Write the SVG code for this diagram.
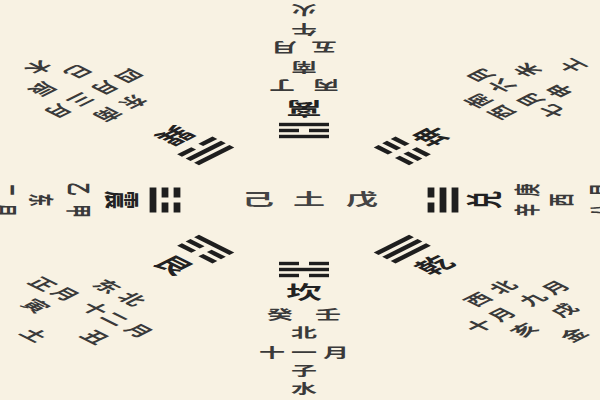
<svg xmlns="http://www.w3.org/2000/svg" width="600" height="400" viewBox="0 0 600 400">
<defs>
<style>
.t{font-family:"Noto Sans CJK SC","Noto Sans CJK JP",sans-serif;font-size:13px;font-weight:700;fill:#3a3a3a;text-anchor:middle;dominant-baseline:central}
.lb{font-size:18px;font-weight:700;fill:#222}
.c{font-size:16px;fill:#444}
.bar{fill:#1e1e1e}
</style>
<g id="yang"><rect class="bar" x="-12.5" y="-1.7" width="25" height="3.4"/></g>
<g id="yin"><rect class="bar" x="-12.5" y="-1.7" width="10" height="3.4"/><rect class="bar" x="2.5" y="-1.7" width="10" height="3.4"/></g>
</defs>
<rect width="600" height="400" fill="#f8f2e3"/>
<g transform="translate(304 200) scale(2 1)">
 <g id="center">
  <text class="t c" x="-23" y="-1.5">己</text>
  <text class="t c" x="2.5" y="-1.5">土</text>
  <text class="t c" x="29" y="-1.5">戊</text>
 </g>
 <g id="kan" transform="rotate(0)">
  <use href="#yin" y="75.5"/><use href="#yang" y="69.5"/><use href="#yin" y="63.5"/>
  <text class="t lb" x="0" y="91">坎</text>
  <text class="t" x="-12" y="113">癸</text><text class="t" x="12" y="113">壬</text>
  <text class="t" x="0" y="131">北</text>
  <text class="t" x="-16" y="151">十</text><text class="t" x="0" y="151">一</text><text class="t" x="16" y="151">月</text>
  <text class="t" x="0" y="169">子</text>
  <text class="t" x="0" y="187">水</text>
 </g>
 <g id="li" transform="rotate(180)">
  <use href="#yang" y="75.5"/><use href="#yin" y="69.5"/><use href="#yang" y="63.5"/>
  <text class="t lb" x="0" y="90">离</text>
  <text class="t" x="-11" y="113">丙</text><text class="t" x="11" y="113">丁</text>
  <text class="t" x="0" y="131">南</text>
  <text class="t" x="-10" y="151">五</text><text class="t" x="10" y="151">月</text>
  <text class="t" x="0" y="169">午</text>
  <text class="t" x="0" y="188">火</text>
 </g>
 <g id="zhen" transform="rotate(90)">
  <use href="#yang" y="75.5"/><use href="#yin" y="69.5"/><use href="#yin" y="63.5"/>
  <text class="t lb" x="0" y="90">震</text>
  <text class="t" x="-11" y="112">乙</text><text class="t" x="11" y="112">甲</text>
  <text class="t" x="0" y="131">东</text>
  <text class="t" x="-10" y="149">二</text><text class="t" x="10" y="149">月</text>
 </g>
 <g id="dui" transform="rotate(-90)">
  <use href="#yang" y="75.5"/><use href="#yang" y="69.5"/><use href="#yin" y="63.5"/>
  <text class="t lb" x="0" y="89">兑</text>
  <text class="t" x="-10" y="111">辛</text><text class="t" x="10" y="111">庚</text>
  <text class="t" x="0" y="128">西</text>
  <text class="t" x="-10" y="148">八</text><text class="t" x="10" y="148">月</text>
 </g>
 <g id="qian" transform="rotate(-45)">
  <use href="#yang" y="75.5"/><use href="#yang" y="69.5"/><use href="#yang" y="63.5"/>
  <text class="t lb" x="0" y="91">乾</text>
  <text class="t" x="-9" y="131">西</text><text class="t" x="9" y="131">北</text>
  <text class="t" x="-27" y="150">十</text><text class="t" x="-11" y="150">月</text><text class="t" x="11" y="150">九</text><text class="t" x="27" y="150">月</text>
  <text class="t" x="-14" y="169">亥</text><text class="t" x="14" y="169">戌</text>
  <text class="t" x="0" y="190">金</text>
 </g>
 <g id="xun" transform="rotate(135)">
  <use href="#yin" y="75.5"/><use href="#yang" y="69.5"/><use href="#yang" y="63.5"/>
  <text class="t lb" x="0" y="90">巽</text>
  <text class="t" x="-9" y="129">东</text><text class="t" x="9" y="129">南</text>
  <text class="t" x="-26" y="149">四</text><text class="t" x="-9" y="149">月</text><text class="t" x="8" y="149">三</text><text class="t" x="24" y="149">月</text>
  <text class="t" x="-11" y="170">巳</text><text class="t" x="14" y="170">辰</text>
  <text class="t" x="0" y="187">木</text>
 </g>
 <g id="kun" transform="rotate(-135)">
  <use href="#yin" y="75.5"/><use href="#yin" y="69.5"/><use href="#yin" y="63.5"/>
  <text class="t lb" x="0" y="89">坤</text>
  <text class="t" x="-8" y="131">西</text><text class="t" x="8.5" y="131">南</text>
  <text class="t" x="-25" y="150">七</text><text class="t" x="-9" y="150">月</text><text class="t" x="11" y="150">六</text><text class="t" x="26" y="150">月</text>
  <text class="t" x="-13" y="167">申</text><text class="t" x="13" y="170">未</text>
  <text class="t" x="0" y="189">土</text>
 </g>
 <g id="gen" transform="rotate(45)">
  <use href="#yin" y="75.5"/><use href="#yin" y="69.5"/><use href="#yang" y="63.5"/>
  <text class="t lb" x="0" y="91">艮</text>
  <text class="t" x="-8.5" y="130">东</text><text class="t" x="9" y="130">北</text>
  <text class="t" x="-33" y="151">正</text><text class="t" x="-18" y="150">月</text><text class="t" x="3" y="150">十</text><text class="t" x="17" y="150">二</text><text class="t" x="34" y="150">月</text>
  <text class="t" x="-20" y="169">寅</text><text class="t" x="23" y="170">丑</text>
  <text class="t" x="0" y="190">土</text>
 </g>
</g>
</svg>
